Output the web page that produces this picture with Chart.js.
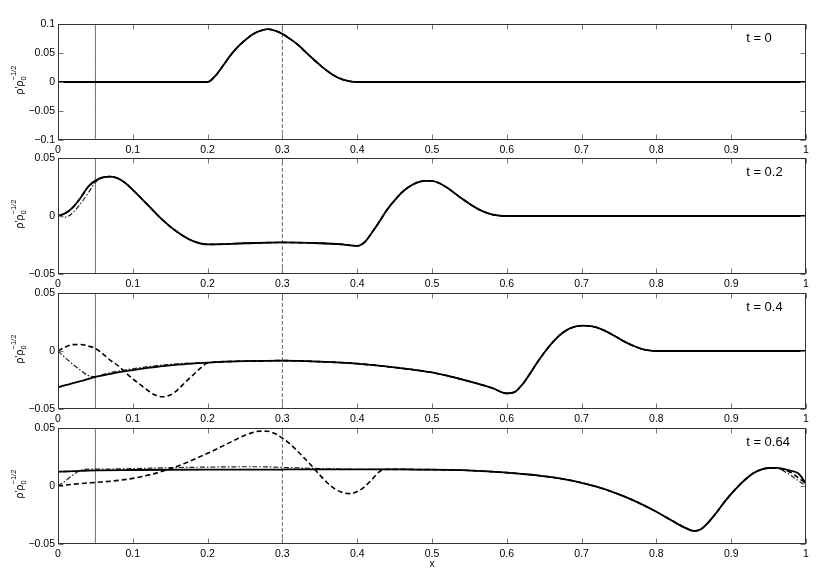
<!DOCTYPE html>
<html>
<head>
<meta charset="utf-8">
<script src="https://cdn.jsdelivr.net/npm/chart.js@4.4.1/dist/chart.umd.min.js"></script>
<style>
  body { margin: 0; background: #fff; width: 830px; height: 585px; position: relative; overflow: hidden; }
  canvas { position: absolute; left: 0; }
</style>
</head>
<body>
<canvas id="p0" width="830" height="146" style="top:14px"></canvas>
<canvas id="p1" width="830" height="146" style="top:148px"></canvas>
<canvas id="p2" width="830" height="146" style="top:283px"></canvas>
<canvas id="p3" width="830" height="156" style="top:418px"></canvas>
<script>
// t = 0
const t0X = [0, 0.05, 0.1, 0.15, 0.2, 0.21, 0.22, 0.23, 0.24, 0.25, 0.26, 0.27, 0.28, 0.29, 0.3,
  0.31, 0.32, 0.33, 0.34, 0.35, 0.36, 0.37, 0.38, 0.39, 0.4, 0.5, 0.6, 0.7, 0.8, 0.9, 1];
const t0Solid = [0, 0, 0, 0, 0, 0.010, 0.027, 0.045, 0.060, 0.072, 0.082, 0.088, 0.091, 0.0885, 0.083,
  0.0745, 0.065, 0.053, 0.041, 0.0295, 0.019, 0.0105, 0.0045, 0.0012, 0, 0, 0, 0, 0, 0, 0];
const t0Dashed = t0Solid;
const t0DashDot = t0Solid;

// t = 0.2
const t1X = [0, 0.01, 0.02, 0.03, 0.04, 0.05, 0.06, 0.07, 0.08, 0.09, 0.1, 0.12, 0.14, 0.16, 0.18,
  0.2, 0.25, 0.3, 0.35, 0.38, 0.4, 0.41, 0.42, 0.43, 0.44, 0.45, 0.46, 0.47, 0.48, 0.49, 0.5,
  0.51, 0.52, 0.53, 0.54, 0.55, 0.56, 0.57, 0.58, 0.59, 0.6, 0.7, 0.8, 0.9, 1];
const t1Solid = [0, 0.0025, 0.0075, 0.0155, 0.025, 0.0305, 0.0333, 0.034, 0.0325, 0.0285, 0.0225,
  0.0095, -0.0035, -0.014, -0.0215, -0.0245, -0.0235, -0.0228, -0.0235, -0.0245,
  -0.0258, -0.0225, -0.014, -0.0045, 0.0055, 0.0135, 0.0205, 0.0255, 0.0288, 0.0303, 0.0302,
  0.0282, 0.0245, 0.0198, 0.015, 0.0105, 0.0066, 0.0035, 0.0013, 0.0003, 0, 0, 0, 0, 0];
const t1Dashed = t1Solid;
const t1DashDot = [0, -0.001, 0.003, 0.0105, 0.0195, 0.029, 0.0333, 0.034, 0.0325, 0.0285, 0.0225,
  0.0095, -0.0035, -0.014, -0.0215, -0.0245, -0.0235, -0.0228, -0.0235, -0.0245,
  -0.0258, -0.0225, -0.014, -0.0045, 0.0055, 0.0135, 0.0205, 0.0255, 0.0288, 0.0303, 0.0302,
  0.0282, 0.0245, 0.0198, 0.015, 0.0105, 0.0066, 0.0035, 0.0013, 0.0003, 0, 0, 0, 0, 0];

// t = 0.4
const t2X = [0, 0.01, 0.02, 0.03, 0.04, 0.05, 0.06, 0.07, 0.08, 0.09, 0.1, 0.11, 0.12, 0.13, 0.14,
  0.15, 0.16, 0.17, 0.18, 0.19, 0.2, 0.25, 0.3, 0.35, 0.4, 0.45, 0.5, 0.55, 0.58,
  0.6, 0.61, 0.62, 0.63, 0.64, 0.65, 0.66, 0.67, 0.68, 0.69, 0.7, 0.71, 0.72, 0.73, 0.74,
  0.75, 0.76, 0.77, 0.78, 0.79, 0.8, 0.9, 1];
const t2Solid = [-0.0313, -0.0295, -0.0277, -0.026, -0.0243, -0.0223, -0.021, -0.0197, -0.0185, -0.0174,
  -0.0164, -0.0155, -0.0146, -0.0138, -0.0131, -0.0124, -0.0118, -0.0113, -0.0108, -0.0104, -0.01,
  -0.0088, -0.0083, -0.0092, -0.0109, -0.0142, -0.0185, -0.0262, -0.0318,
  -0.0365, -0.0355, -0.0295, -0.0205, -0.0105, -0.0015, 0.0065, 0.0132, 0.018, 0.0207, 0.0218,
  0.0217, 0.0203, 0.0178, 0.0145, 0.0108, 0.0072, 0.0043, 0.0019, 0.0005, 0, 0, 0];
const t2Dashed = [0, 0.0035, 0.0055, 0.0056, 0.0043, 0.0022, -0.0025, -0.008, -0.0125, -0.0185,
  -0.024, -0.029, -0.034, -0.038, -0.0395, -0.038, -0.0335, -0.027, -0.021, -0.015, -0.0103,
  -0.0088, -0.0083, -0.0092, -0.0109, -0.0142, -0.0185, -0.0262, -0.0318,
  -0.0365, -0.0355, -0.0295, -0.0205, -0.0105, -0.0015, 0.0065, 0.0132, 0.018, 0.0207, 0.0218,
  0.0217, 0.0203, 0.0178, 0.0145, 0.0108, 0.0072, 0.0043, 0.0019, 0.0005, 0, 0, 0];
const t2DashDot = [0, -0.006, -0.0115, -0.0165, -0.021, -0.0222, -0.0203, -0.0187, -0.0174, -0.0163,
  -0.0153, -0.0144, -0.0135, -0.0127, -0.0121, -0.0115, -0.011, -0.0106, -0.0103, -0.0101, -0.01,
  -0.0088, -0.0083, -0.0092, -0.0109, -0.0142, -0.0185, -0.0262, -0.0318,
  -0.0365, -0.0355, -0.0295, -0.0205, -0.0105, -0.0015, 0.0065, 0.0132, 0.018, 0.0207, 0.0218,
  0.0217, 0.0203, 0.0178, 0.0145, 0.0108, 0.0072, 0.0043, 0.0019, 0.0005, 0, 0, 0];

// t = 0.64
const t3X = [0, 0.01, 0.02, 0.03, 0.04, 0.05, 0.1, 0.15,
  0.2, 0.21, 0.22, 0.23, 0.24, 0.25, 0.26, 0.27, 0.28, 0.29, 0.3, 0.31, 0.32, 0.33, 0.34,
  0.35, 0.36, 0.37, 0.38, 0.39, 0.4, 0.41, 0.42, 0.43, 0.44,
  0.46, 0.48, 0.5, 0.52, 0.54, 0.56, 0.58, 0.6, 0.62, 0.64, 0.66, 0.68, 0.7, 0.72, 0.74, 0.76,
  0.78, 0.8, 0.82, 0.84,
  0.85, 0.86, 0.87, 0.88, 0.89, 0.9, 0.91, 0.92, 0.93, 0.94, 0.95, 0.96, 0.97, 0.98, 0.99, 1];
const t3Solid = [0.0123, 0.0125, 0.0128, 0.013, 0.0133, 0.0135, 0.0138, 0.014,
  0.0141, 0.0141, 0.0141, 0.0142, 0.0142, 0.0142, 0.0142, 0.0142, 0.0142, 0.0142, 0.0142,
  0.0143, 0.0143, 0.0143, 0.0143, 0.0143, 0.0143, 0.0143, 0.0143, 0.0143, 0.0143, 0.0143,
  0.0143, 0.0143, 0.0143,
  0.0143, 0.0142, 0.0141, 0.0139, 0.0136, 0.0131, 0.0124, 0.0115, 0.0104, 0.0092, 0.0076,
  0.0055, 0.0028, -0.0006, -0.0048, -0.0098, -0.0156, -0.0222, -0.0296, -0.0365,
  -0.0388, -0.037, -0.031, -0.0232, -0.0145, -0.0068, 0.0002, 0.0063, 0.0112, 0.0142, 0.0155,
  0.0156, 0.0148, 0.013, 0.0108, 0.002];
const t3Dashed = [0, 0.0008, 0.0015, 0.0021, 0.0026, 0.003, 0.0066, 0.0148,
  0.0282, 0.0312, 0.0344, 0.0376, 0.0408, 0.0437, 0.046, 0.0473, 0.0472, 0.0452, 0.0413,
  0.0362, 0.0302, 0.0236, 0.0168, 0.0095, 0.0028, -0.0025, -0.0055, -0.0066, -0.0048, -0.0005,
  0.0058, 0.0125, 0.0143,
  0.0143, 0.0142, 0.0141, 0.0139, 0.0136, 0.0131, 0.0124, 0.0115, 0.0104, 0.0092, 0.0076,
  0.0055, 0.0028, -0.0006, -0.0048, -0.0098, -0.0156, -0.0222, -0.0296, -0.0365,
  -0.0388, -0.037, -0.031, -0.0232, -0.0145, -0.0068, 0.0002, 0.0063, 0.0112, 0.0142, 0.0155,
  0.0156, 0.0138, 0.0115, 0.007, 0.002];
const t3DashDot = [0, 0.0045, 0.0095, 0.0135, 0.0145, 0.0145, 0.015, 0.0158,
  0.0163, 0.0164, 0.0165, 0.0165, 0.0166, 0.0166, 0.0166, 0.0166, 0.0165, 0.0163, 0.016,
  0.0158, 0.0156, 0.0154, 0.0152, 0.015, 0.0148, 0.0147, 0.0146, 0.0145, 0.0144, 0.0144,
  0.0143, 0.0143, 0.0143,
  0.0143, 0.0142, 0.0141, 0.0139, 0.0136, 0.0131, 0.0124, 0.0115, 0.0104, 0.0092, 0.0076,
  0.0055, 0.0028, -0.0006, -0.0048, -0.0098, -0.0156, -0.0222, -0.0296, -0.0365,
  -0.0388, -0.037, -0.031, -0.0232, -0.0145, -0.0068, 0.0002, 0.0063, 0.0112, 0.0142, 0.0155,
  0.0156, 0.013, 0.009, 0.0045, 0];

const refSolidX = 0.05;
const refDashedX = 0.3;
const yLimits = [[-0.1, 0.1], [-0.05, 0.05], [-0.05, 0.05], [-0.05, 0.05]];
const timeLabels = ['t = 0', 't = 0.2', 't = 0.4', 't = 0.64'];
const xTickStep = 0.1;
const yTickStep = 0.05;

Chart.defaults.font.family = '"Liberation Sans", Arial, sans-serif';
Chart.defaults.font.size = 10.5;
Chart.defaults.color = '#000';

const toPts = (xs, ys) => xs.map((x, i) => ({ x: x, y: ys[i] }));
const fmt = v => {
  const r = Math.round(v * 100) / 100;
  return (r < 0 ? '\u2212' : '') + Math.abs(r);
};

// box, inward ticks, panel text and y label (matlab style)
const framePlugin = {
  id: 'frame',
  afterDraw(chart, args, opts) {
    const ctx = chart.ctx, a = chart.chartArea;
    const xs = chart.scales.x, ys = chart.scales.y;
    const L = Math.round(a.left) + 0.5, R = Math.round(a.right) - 0.5;
    const T = Math.round(a.top) + 0.5, B = Math.round(a.bottom) - 0.5;
    ctx.save();
    ctx.lineWidth = 1;
    ctx.strokeStyle = '#777';
    ctx.beginPath();
    xs.ticks.forEach(t => {
      const px = Math.round(xs.getPixelForValue(t.value)) + 0.5;
      ctx.moveTo(px, T); ctx.lineTo(px, T + 5);
      ctx.moveTo(px, B); ctx.lineTo(px, B - 5);
    });
    ys.ticks.forEach(t => {
      const py = Math.round(ys.getPixelForValue(t.value)) + 0.5;
      ctx.moveTo(L, py); ctx.lineTo(L + 5, py);
      ctx.moveTo(R, py); ctx.lineTo(R - 5, py);
    });
    ctx.stroke();
    ctx.strokeStyle = '#333';
    ctx.strokeRect(L, T, R - L, B - T);

    ctx.fillStyle = '#000';
    ctx.font = '13px "Liberation Sans", Arial, sans-serif';
    ctx.textBaseline = 'middle';
    ctx.fillText(opts.label, xs.getPixelForValue(0.92), a.top + 14);

    // y label  rho' rho_0^{-1/2}
    const cy = (a.top + a.bottom) / 2 - 2;
    ctx.translate(20, cy);
    ctx.rotate(-Math.PI / 2);
    ctx.textBaseline = 'alphabetic';
    const big = '10.5px "Liberation Sans", Arial, sans-serif';
    const small = '7.5px "Liberation Sans", Arial, sans-serif';
    ctx.font = big;
    const wMain = ctx.measureText("\u03c1'\u03c1").width;
    ctx.font = small;
    const wSup = ctx.measureText('\u22121/2').width;
    const x0 = -(wMain + wSup) / 2;
    ctx.font = big;
    ctx.fillText("\u03c1'\u03c1", x0, 3);
    ctx.font = small;
    ctx.fillText('0', x0 + wMain, 5.5);
    ctx.fillText('\u22121/2', x0 + wMain, -4);
    ctx.restore();
  }
};

function makePanel(id, xs, solid, dashed, dashdot, lim, label, showX) {
  const line = (data, w, dash, color) => ({
    data: data, borderColor: color, borderWidth: w, borderDash: dash,
    pointRadius: 0, fill: false, cubicInterpolationMode: 'monotone', borderJoinStyle: 'round'
  });
  new Chart(document.getElementById(id), {
    type: 'line',
    data: {
      datasets: [
        line(toPts(xs, solid), 1.8, [], '#000'),
        line(toPts(xs, dashed), 1.6, [5, 3], '#000'),
        line(toPts(xs, dashdot), 1.2, [5, 2, 1.5, 2], '#222'),
        line([{ x: refSolidX, y: lim[0] }, { x: refSolidX, y: lim[1] }], 0.8, [], '#444'),
        line([{ x: refDashedX, y: lim[0] }, { x: refDashedX, y: lim[1] }], 0.8, [4, 2], '#444')
      ]
    },
    options: {
      responsive: false,
      animation: false,
      devicePixelRatio: 1,
      layout: { padding: { top: 10, right: 24, left: 0, bottom: 0 } },
      plugins: { legend: { display: false }, tooltip: { enabled: false }, frame: { label: label } },
      scales: {
        x: {
          type: 'linear', min: 0, max: 1,
          grid: { display: false, drawTicks: false },
          border: { display: false },
          ticks: { stepSize: xTickStep, padding: 4, maxRotation: 0, autoSkip: false, callback: v => fmt(v) },
          title: { display: showX, text: 'x', padding: { top: 0, bottom: 4 } },
          afterFit: s => { s.height = showX ? 30 : 20; }
        },
        y: {
          type: 'linear', min: lim[0], max: lim[1],
          grid: { display: false, drawTicks: false },
          border: { display: false },
          ticks: { stepSize: yTickStep, padding: 3, callback: v => fmt(v) },
          afterFit: s => { s.width = 58; }
        }
      }
    },
    plugins: [framePlugin]
  });
}

makePanel('p0', t0X, t0Solid, t0Dashed, t0DashDot, yLimits[0], timeLabels[0], false);
makePanel('p1', t1X, t1Solid, t1Dashed, t1DashDot, yLimits[1], timeLabels[1], false);
makePanel('p2', t2X, t2Solid, t2Dashed, t2DashDot, yLimits[2], timeLabels[2], false);
makePanel('p3', t3X, t3Solid, t3Dashed, t3DashDot, yLimits[3], timeLabels[3], true);
</script>
</body>
</html>
